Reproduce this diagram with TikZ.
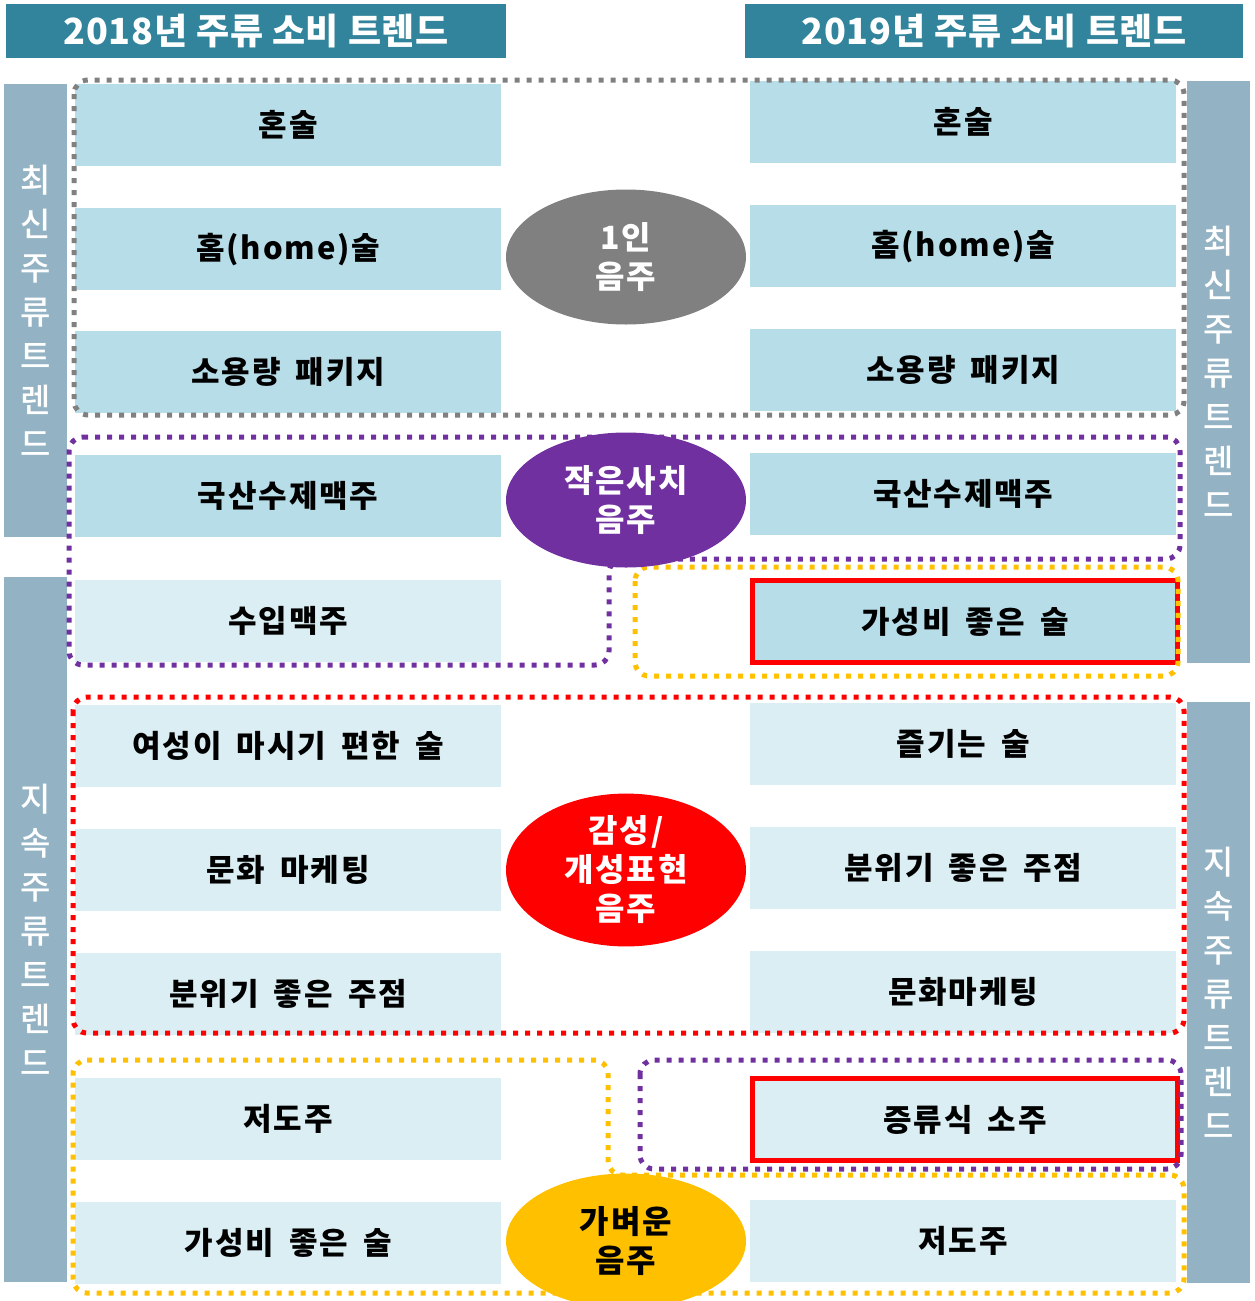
\documentclass[tikz,border=0pt]{standalone}
\usepackage{fontspec}
\setmainfont{Noto Sans CJK KR}[LetterSpace=6,WordSpace=1.7]
\newfontfamily\hdrfont{Noto Sans CJK KR}[LetterSpace=2]
\newfontfamily\barfont{Noto Sans CJK KR Medium}
\usetikzlibrary{shapes.geometric}
\definecolor{hdr}{HTML}{31849B}
\definecolor{bar}{HTML}{93B3C4}
\definecolor{lb}{HTML}{B7DDE8}
\definecolor{llb}{HTML}{DAEEF3}
\definecolor{pur}{HTML}{7030A0}
\definecolor{yel}{HTML}{FFC000}
\definecolor{gry}{HTML}{808080}
\begin{document}
\begin{tikzpicture}[x=1pt,y=-1pt,
  hdrbox/.style={fill=hdr,anchor=north west,inner sep=0pt,minimum width=500pt,minimum height=54pt,text=white,font=\hdrfont\fontsize{36}{40}\selectfont\bfseries},
  sidebar/.style={fill=bar,anchor=north west,inner sep=0pt,minimum width=63pt,text=white,align=center,font=\barfont\fontsize{33}{44}\selectfont},
  trbox/.style={anchor=north west,inner sep=0pt,minimum width=426pt,minimum height=82pt,font=\fontsize{31}{36}\selectfont\bfseries},
  hibox/.style={draw=red,line width=5pt},
  dotline/.style={line width=5pt,dash pattern=on 5pt off 7pt,rounded corners=14pt},
  ell/.style={ellipse,minimum width=240pt,minimum height=135pt,inner sep=0pt,align=center,font=\fontsize{32}{39}\selectfont\bfseries}]
\useasboundingbox (0,0) rectangle (1255,1301);
% headers
\node[hdrbox] (h1) at (6,4) {2018년 주류 소비 트렌드};
\node[hdrbox,minimum width=498pt] (h2) at (745,4) {2019년 주류 소비 트렌드};
% side bars
\node[sidebar,minimum height=453pt] (s1) at (4,84) {최\\신\\주\\류\\트\\렌\\드};
\node[sidebar,minimum height=705pt] (s2) at (4,577) {지\\속\\주\\류\\트\\렌\\드};
\node[sidebar,minimum height=582pt] (s3) at (1187,81) {최\\신\\주\\류\\트\\렌\\드};
\node[sidebar,minimum height=581pt] (s4) at (1187,702) {지\\속\\주\\류\\트\\렌\\드};
% left column
\node[trbox,fill=lb] (l1) at (75,84) {혼술};
\node[trbox,fill=lb] (l2) at (75,208) {홈(home)술};
\node[trbox,fill=lb] (l3) at (75,331) {소용량 패키지};
\node[trbox,fill=lb] (l4) at (75,455) {국산수제맥주};
\node[trbox,fill=llb] (l5) at (75,580) {수입맥주};
\node[trbox,fill=llb] (l6) at (75,705) {여성이 마시기 편한 술};
\node[trbox,fill=llb] (l7) at (75,829) {문화 마케팅};
\node[trbox,fill=llb] (l8) at (75,953) {분위기 좋은 주점};
\node[trbox,fill=llb] (l9) at (75,1078) {저도주};
\node[trbox,fill=llb] (l10) at (75,1202) {가성비 좋은 술};
% right column
\node[trbox,fill=lb] (r1) at (750,81) {혼술};
\node[trbox,fill=lb] (r2) at (750,205) {홈(home)술};
\node[trbox,fill=lb] (r3) at (750,329) {소용량 패키지};
\node[trbox,fill=lb] (r4) at (750,453) {국산수제맥주};
\node[trbox,fill=lb,hibox,minimum width=425pt,minimum height=82pt] (r5) at (750,578) {가성비 좋은 술};
\node[trbox,fill=llb] (r6) at (750,703) {즐기는 술};
\node[trbox,fill=llb] (r7) at (750,827) {분위기 좋은 주점};
\node[trbox,fill=llb] (r8) at (750,951) {문화마케팅};
\node[trbox,fill=llb,hibox,minimum width=425pt,minimum height=82pt] (r9) at (750,1076) {증류식 소주};
\node[trbox,fill=llb] (r10) at (750,1200) {저도주};
% dotted outlines
\draw[dotline,gry] (74,80) rectangle (1184,415);
\draw[dotline,pur] (69,437) -- (1180,437) -- (1180,559) -- (609,559) -- (609,665) -- (69,665) -- cycle;
\draw[dotline,yel] (635,567) rectangle (1178,676);
\draw[dotline,red] (73,697) rectangle (1184,1033);
\draw[dotline,pur] (640,1060) rectangle (1181,1169);
\draw[dotline,yel] (73,1060) -- (608,1060) -- (608,1175) -- (1184,1175) -- (1184,1293) -- (73,1293) -- cycle;
% ellipses
\node[ell,fill=gry,text=white] (e1) at (626,257) {1인\\음주};
\node[ell,fill=pur,text=white] (e2) at (626,500) {작은사치\\음주};
\node[ell,fill=red,text=white] (e3) at (626,870) {감성/\\개성표현\\음주};
\node[ell,fill=yel,text=black] (e4) at (626,1241) {가벼운\\음주};
\end{tikzpicture}
\end{document}
